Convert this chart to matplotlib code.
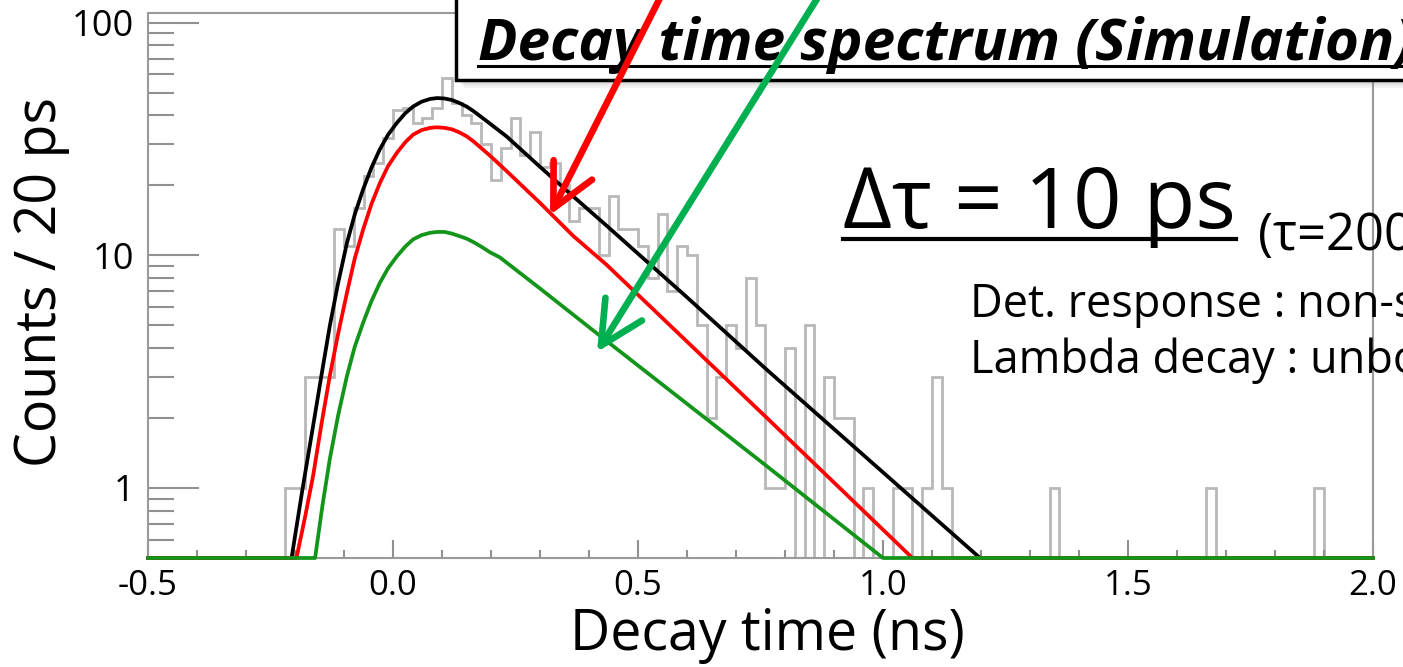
import numpy as np
import matplotlib
matplotlib.use("Agg")
import matplotlib.pyplot as plt
from matplotlib.patches import Rectangle, FancyArrowPatch
from matplotlib.lines import Line2D
from matplotlib.ticker import LogLocator, MultipleLocator, NullFormatter, FuncFormatter

plt.rcParams['font.family'] = ['Open Sans', 'DejaVu Sans']
plt.rcParams['axes.unicode_minus'] = False

W, H = 1403, 667

# histogramme simule : pas de 20 ps entre -0.5 et 2.0 ns
bin_edges = np.round(np.linspace(-0.5, 2.0, 126), 3)
counts = [0, 0, 0, 0, 0, 0, 0, 0, 0, 0,
          0, 0, 0, 0, 1, 1, 3, 3, 3, 13,
          11, 16, 22, 25, 32, 42, 43, 37, 39, 43,
          58, 45, 40, 37, 30, 21, 29, 39, 27, 34,
          24, 25, 20, 14, 16, 16, 10, 18, 13, 13,
          11, 8, 15, 7, 11, 10, 5, 2, 3, 5,
          4, 8, 5, 1, 1, 4, 0, 5, 0, 3,
          2, 2, 0, 1, 0, 0, 1, 1, 0, 1,
          3, 1, 0, 0, 0, 0, 0, 0, 0, 0,
          0, 0, 1, 0, 0, 0, 0, 0, 0, 0,
          0, 0, 0, 0, 0, 0, 0, 0, 1, 0,
          0, 0, 0, 0, 0, 0, 0, 0, 0, 1,
          0, 0, 0, 0, 0]

# courbes d'ajustement
total_t = [-0.5, -0.207, -0.185, -0.163, -0.146, -0.129, -0.112, -0.094, -0.078, -0.061,
           -0.044, -0.027, -0.010, 0.008, 0.025, 0.041, 0.058, 0.076, 0.090, 0.105,
           0.120, 0.135, 0.150, 0.164, 0.198, 0.232, 0.300, 0.368, 0.436, 0.600, 0.763,
           1.198, 2.0]
total_y = [0.5, 0.5, 0.98, 1.85, 3.05, 4.97, 7.6, 11.3, 15.0, 19.2,
           23.8, 28.5, 33.0, 37.1, 40.8, 43.6, 45.7, 47.0, 47.4, 47.2,
           46.5, 45.2, 43.6, 41.7, 36.8, 32.4, 24.0, 17.9, 13.4, 6.6, 3.22,
           0.5, 0.5]

red_t = [-0.5, -0.197, -0.180, -0.163, -0.146, -0.129, -0.112, -0.094, -0.078, -0.061,
         -0.044, -0.027, -0.010, 0.008, 0.025, 0.041, 0.058, 0.076, 0.090, 0.105,
         0.120, 0.135, 0.150, 0.164, 0.198, 0.232, 0.300, 0.368, 0.436, 0.763, 1.060, 2.0]
red_y = [0.5, 0.5, 0.74, 1.13, 1.88, 3.03, 4.6, 6.9, 9.7, 12.9,
         16.6, 20.4, 24.2, 27.6, 30.6, 33.0, 34.5, 35.3, 35.5, 35.3,
         34.8, 33.8, 32.5, 30.9, 26.8, 23.0, 16.8, 12.1, 9.1, 2.0, 0.5, 0.5]

green_t = [-0.5, -0.159, -0.144, -0.129, -0.112, -0.094, -0.078, -0.061, -0.044, -0.027,
           -0.010, 0.008, 0.025, 0.041, 0.058, 0.076, 0.090, 0.105, 0.120, 0.135,
           0.150, 0.164, 0.180, 0.198, 0.218, 0.300, 0.420, 0.763, 1.000, 2.0]
green_y = [0.5, 0.5, 0.84, 1.33, 2.05, 3.03, 4.05, 5.13, 6.35, 7.6,
           8.8, 9.9, 10.9, 11.7, 12.2, 12.5, 12.6, 12.6, 12.4, 12.1,
           11.8, 11.4, 10.9, 10.3, 9.8, 7.2, 4.55, 1.24, 0.5, 0.5]

fig = plt.figure(figsize=(W / 100, H / 100), dpi=100)
ax = fig.add_axes([148 / W, 109 / H, 1225 / W, 545 / H])
ax.set_yscale('log')
ax.set_xlim(-0.5, 2.0)
ax.set_ylim(0.5, 110)

c = np.array(counts, dtype=float)
ax.stairs(np.where(c > 0, c, 1e-3), bin_edges, color='#b8b8b8', lw=2, baseline=None)

ax.plot(total_t, total_y, color='black', lw=2.7, clip_on=False, zorder=3)
ax.plot(red_t, red_y, color='#ff0000', lw=2.7, clip_on=False, zorder=3)
ax.plot(green_t, green_y, color='#13951a', lw=2.7, clip_on=False, zorder=3)

for s in ax.spines.values():
    s.set_color('#9a9a9a')
    s.set_linewidth(1.5)

ax.yaxis.set_major_locator(LogLocator(base=10, numticks=10))
ax.yaxis.set_minor_locator(LogLocator(base=10, subs=np.arange(2, 10), numticks=20))
ax.yaxis.set_minor_formatter(NullFormatter())
ax.yaxis.set_major_formatter(FuncFormatter(lambda v, p: f'{v:g}'))
ax.xaxis.set_major_locator(MultipleLocator(0.5))
ax.xaxis.set_minor_locator(MultipleLocator(0.1))
ax.xaxis.set_major_formatter(FuncFormatter(lambda v, p: f'{v:.1f}'))

ax.tick_params(axis='y', which='major', direction='in', length=37, width=1.5,
               color='#909090', labelsize=26, pad=10)
ax.tick_params(axis='y', which='minor', direction='in', length=19, width=1.5, color='#909090')
ax.tick_params(axis='x', which='major', direction='in', length=13, width=1.5,
               color='#909090', labelsize=25, pad=8)
ax.tick_params(axis='x', which='minor', direction='in', length=6, width=1.5, color='#909090')

fig.text(42 / W, 1 - 282 / H, 'Counts / 20 ps', fontsize=40, rotation=90, ha='center', va='center')
fig.text(767 / W, 1 - 636 / H, 'Decay time (ns)', fontsize=40, ha='center', va='center')

# boite du titre avec ombre
for i, a in enumerate([0.10, 0.10, 0.12, 0.15]):
    off = 8 - 2 * i
    fig.add_artist(Rectangle((456 / W + off / W, 1 - (80 + off) / H), 1000 / W, 120 / H,
                             transform=fig.transFigure, facecolor='#888888', alpha=a,
                             edgecolor='none', zorder=9))
fig.add_artist(Rectangle((456 / W, 1 - 80 / H), 1000 / W, 120 / H, transform=fig.transFigure,
                         facecolor='white', edgecolor='black', lw=2.5, zorder=10))
title = fig.text(478 / W, 1 - 60 / H, 'Decay time spectrum (Simulation)', fontsize=42,
                 fontweight='bold', style='italic', va='baseline', zorder=11)

big = fig.text(843 / W, 1 - 228 / H, 'Δτ = 10 ps', fontsize=61, va='baseline', zorder=11)
fig.text(1258 / W, 1 - 250 / H, '(τ=200 ps)', fontsize=36.5, va='baseline', zorder=11)
fig.text(970 / W, 1 - 317 / H, 'Det. response : non-smeared', fontsize=32.5, va='baseline', zorder=11)
fig.text(970 / W, 1 - 373 / H, 'Lambda decay : unbound', fontsize=32.5, va='baseline', zorder=11)

fig.canvas.draw()
r = fig.canvas.get_renderer()
bb = title.get_window_extent(r)
fig.add_artist(Line2D([bb.x0 / W, bb.x1 / W], [1 - 66 / H, 1 - 66 / H], color='black', lw=2.2,
                      transform=fig.transFigure, zorder=11))
bb = big.get_window_extent(r)
fig.add_artist(Line2D([bb.x0 / W, bb.x1 / W], [1 - 239 / H, 1 - 239 / H], color='black', lw=3,
                      transform=fig.transFigure, zorder=11))

# fleches (par-dessus la boite du titre)
for tail, tip, col in [((662, -6), (550, 215), '#ff0000'), ((820, -6), (597, 352), '#00b050')]:
    fig.add_artist(FancyArrowPatch((tail[0] / W, 1 - tail[1] / H), (tip[0] / W, 1 - tip[1] / H),
                                   transform=fig.transFigure,
                                   arrowstyle='->, head_length=3.1, head_width=1.55',
                                   mutation_scale=10, color=col, lw=4.8, shrinkA=0, shrinkB=0,
                                   capstyle='round', joinstyle='round', zorder=12))

fig.savefig('out.png', dpi=100)
